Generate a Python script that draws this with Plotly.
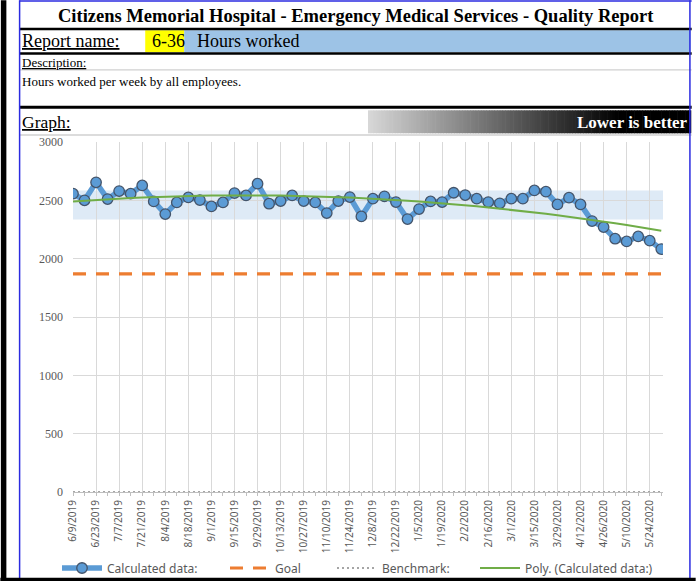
import numpy as np
import plotly.graph_objects as go

# ---------------- data ----------------
weeks = ["6/9/2019", "6/16/2019", "6/23/2019", "6/30/2019", "7/7/2019", "7/14/2019",
         "7/21/2019", "7/28/2019", "8/4/2019", "8/11/2019", "8/18/2019", "8/25/2019",
         "9/1/2019", "9/8/2019", "9/15/2019", "9/22/2019", "9/29/2019", "10/6/2019",
         "10/13/2019", "10/20/2019", "10/27/2019", "11/3/2019", "11/10/2019", "11/17/2019",
         "11/24/2019", "12/1/2019", "12/8/2019", "12/15/2019", "12/22/2019", "12/29/2019",
         "1/5/2020", "1/12/2020", "1/19/2020", "1/26/2020", "2/2/2020", "2/9/2020",
         "2/16/2020", "2/23/2020", "3/1/2020", "3/8/2020", "3/15/2020", "3/22/2020",
         "3/29/2020", "4/5/2020", "4/12/2020", "4/19/2020", "4/26/2020", "5/3/2020",
         "5/10/2020", "5/17/2020", "5/24/2020", "5/31/2020"]

hours = [2557, 2500, 2654, 2511, 2579, 2557, 2628, 2491, 2382, 2482,
         2525, 2502, 2448, 2482, 2562, 2542, 2643, 2471, 2494, 2542,
         2494, 2482, 2391, 2494, 2528, 2362, 2514, 2534, 2485, 2339,
         2425, 2491, 2485, 2565, 2545, 2514, 2485, 2474, 2514, 2514,
         2585, 2574, 2465, 2523, 2465, 2322, 2271, 2171, 2148, 2191,
         2154, 2082]

goal = [1870] * len(weeks)
benchmark = [0] * len(weeks)
band_low, band_high = 2335, 2585
y_ticks = [0, 500, 1000, 1500, 2000, 2500, 3000]

# ---------------- geometry helpers ----------------
WIDTH, HEIGHT = 696, 581
L, R, T, B = 72.7, 663.3, 141.7, 491.7
PW, PH = R - L, B - T


def fx(px):
    return (px - L) / PW


def fy(py):
    return (B - py) / PH


def cx(px):
    return px / WIDTH


def cy(py):
    return 1 - py / HEIGHT


idx = list(range(len(weeks)))
trend = np.polyval(np.polyfit(idx, hours, 2), idx)

BLUE = "#5B9BD5"
ORANGE = "#ED7D31"
GREEN = "#70AD47"
GRAY_TXT = "#595959"
GRID = "#D9D9D9"

fig = go.Figure()

fig.add_trace(go.Scatter(
    x=idx, y=hours, mode="lines+markers", name="Calculated data:",
    line=dict(color=BLUE, width=5.5),
    marker=dict(size=10.5, color=BLUE, line=dict(color="#44546A", width=1.3)),
    legend="legend"))
fig.add_trace(go.Scatter(
    x=idx, y=goal, mode="lines", name="Goal",
    line=dict(color=ORANGE, width=3.2, dash="13px,10px"), legend="legend2"))
fig.add_trace(go.Scatter(
    x=idx, y=benchmark, mode="lines", name="Benchmark:",
    line=dict(color="#A5A5A5", width=2, dash="2px,3px"), legend="legend3"))
fig.add_trace(go.Scatter(
    x=idx, y=trend, mode="lines", name="Poly. (Calculated data:)",
    line=dict(color=GREEN, width=2), legend="legend4"))

shapes = []


def rect(x0, y0, x1, y1, color, layer="above"):
    shapes.append(dict(type="rect", xref="paper", yref="paper",
                       x0=fx(x0), x1=fx(x1), y0=fy(y0), y1=fy(y1),
                       fillcolor=color, line=dict(width=0), layer=layer))


# control band
shapes.append(dict(type="rect", xref="paper", yref="y", x0=0, x1=1,
                   y0=band_low, y1=band_high, fillcolor="#DEEAF6",
                   line=dict(width=0), layer="below"))

# header background blocks
rect(145, 30, 184, 52, "#FFFF00")
rect(184, 30, 691, 52, "#9DC3E6")
# gradient bar
n = 120
gx0, gx1 = 368, 691
for i in range(n):
    t = i / (n - 1)
    v = int(round(max(0, 215 - 215 * min(1, t / 0.78))))
    rect(gx0 + (gx1 - gx0) * i / n, 110, gx0 + (gx1 - gx0) * (i + 1) / n + 0.6, 133,
         f"rgb({v},{v},{v})")
# lines
rect(19, 27.5, 692, 30, "#000000")
rect(19, 52, 692, 54.5, "#000000")
rect(19, 69, 692, 70.2, "#D0D0D0")
rect(19, 105.5, 692, 108.5, "#000000")
rect(19, 134, 692, 135.5, "#D0D0D0")
# frame
rect(0.5, 0, 6, 581, "#000000")
rect(18.5, 0, 20, 581, "#2B2BE0")
rect(689.5, 0, 691, 581, "#2B2BE0")
rect(19, 0, 692, 1.5, "#2B2BE0")
rect(0, 577.5, 696, 581, "#000000")

annotations = []


def txt(text, px, py, size, family="Liberation Serif", color="#000000", xanchor="left"):
    annotations.append(dict(x=fx(px), y=fy(py), xref="paper", yref="paper", text=text,
                            showarrow=False, xanchor=xanchor, yanchor="middle",
                            font=dict(size=size, family=family, color=color)))


txt("<b>Citizens Memorial Hospital - Emergency Medical Services - Quality Report</b>",
    356, 15.5, 18.5, xanchor="center")
txt("<u>Report name:</u>", 20, 41, 18)
txt("6-36", 150, 41, 18)
txt("Hours worked", 195, 41, 18)
txt("<u>Description:</u>", 20, 62, 13)
txt("Hours worked per week by all employees.", 20, 81, 13)
txt("<u>Graph:</u>", 20, 122, 17.5)
txt("<b>Lower is better</b>", 690, 122, 17, color="#FFFFFF", xanchor="right")

legend_common = dict(orientation="h", yanchor="middle", xanchor="left",
                     xref="container", yref="container",
                     bgcolor="rgba(0,0,0,0)", font=dict(size=12, family="Noto Sans", color=GRAY_TXT),
                     itemwidth=40, tracegroupgap=0)

fig.update_layout(
    width=WIDTH, height=HEIGHT,
    margin=dict(l=L, r=WIDTH - R, t=T, b=HEIGHT - B, pad=0),
    paper_bgcolor="white", plot_bgcolor="white",
    showlegend=True,
    legend=dict(x=cx(57), y=cy(568), **legend_common),
    legend2=dict(x=cx(225), y=cy(568), **legend_common),
    legend3=dict(x=cx(332), y=cy(568), **legend_common),
    legend4=dict(x=cx(475), y=cy(568), **legend_common),
    shapes=shapes, annotations=annotations,
    xaxis=dict(range=[0, 51.15], tickmode="array", tickvals=idx[::2], ticktext=weeks[::2],
               tickangle=-90, showgrid=True, gridcolor=GRID, gridwidth=1,
               showline=True, linecolor="#BFBFBF", linewidth=1,
               ticks="outside", ticklen=3, tickcolor="#BFBFBF",
               minor=dict(dtick=1, tick0=0, ticks="outside", ticklen=3, tickcolor="#BFBFBF", showgrid=False),
               tickfont=dict(size=10, family="Noto Sans", color=GRAY_TXT), zeroline=False,
               automargin=False, fixedrange=True),
    yaxis=dict(range=[0, 3000], tickmode="array", tickvals=y_ticks,
               showgrid=True, gridcolor=GRID, gridwidth=1, zeroline=False,
               tickfont=dict(size=12, family="Liberation Serif", color=GRAY_TXT),
               ticklabelstandoff=9, automargin=False, fixedrange=True),
)

fig.write_html("out.html", config={"displayModeBar": False},
               post_script="document.body.style.margin='0';document.body.style.padding='0';")
